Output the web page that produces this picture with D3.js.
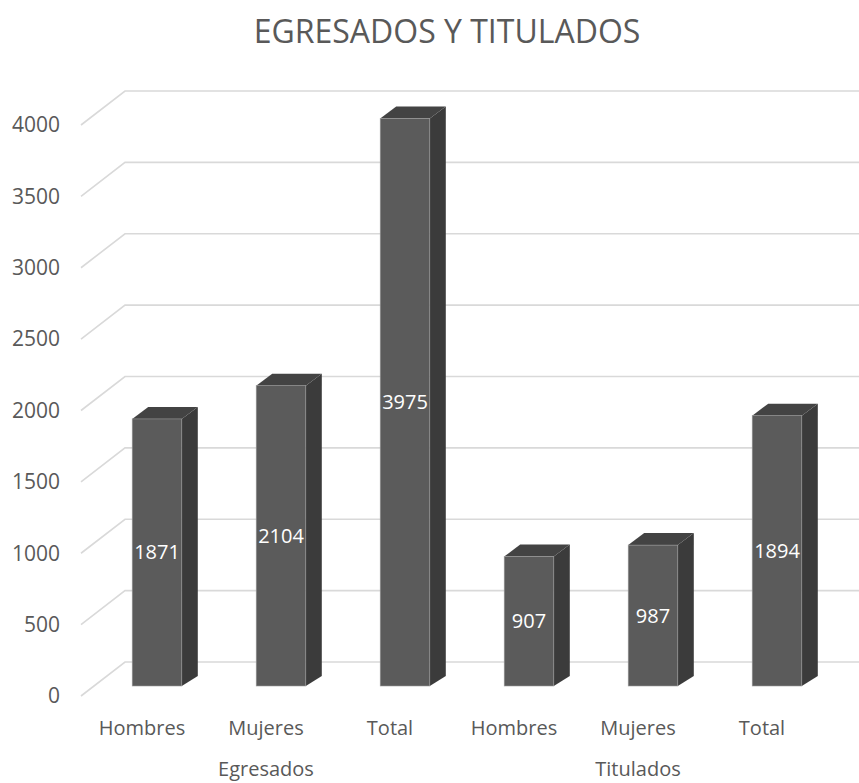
<!DOCTYPE html>
<html>
<head>
<meta charset="utf-8">
<script src="https://cdn.jsdelivr.net/npm/d3@7"></script>
<style>
	body { margin: 0; background: #fff; }
	#container { width: 859px; height: 783px; }
	text { font-family: 'Open Sans', sans-serif; }
</style>
</head>
<body>
<div id="container"></div>
<script>
var groups = ['Egresados', 'Titulados'];
var categories = ['Hombres', 'Mujeres', 'Total'];
var egresados = [1871, 2104, 3975];
var titulados = [907, 987, 1894];
var yTicks = [0, 500, 1000, 1500, 2000, 2500, 3000, 3500, 4000];

var width = 859,
	height = 783;

var svg = d3.select('#container').append('svg')
	.attr('width', width)
	.attr('height', height);

// flatten into one row per bar
var rows = [];
groups.forEach(function(grp, gi) {
	var vals = gi === 0 ? egresados : titulados;
	categories.forEach(function(cat, ci) {
		rows.push({ key: grp + '-' + cat, group: grp, cat: cat, value: vals[ci] });
	});
});

var x = d3.scaleBand()
	.domain(rows.map(function(d) { return d.key; }))
	.range([95, 839])
	.paddingInner(0.6)
	.paddingOuter(0.3);

var y = d3.scaleLinear()
	.domain([0, 4000])
	.range([686, 115]);

var depthX = 16, depthY = -12;   // bar depth
var backOff = -24, frontOff = 10; // floor depth of the grid
var wallX0 = 81, wallX1 = 125;

draw();

function draw() {

	svg.append('text')
		.attr('x', 447)
		.attr('y', 43)
		.attr('text-anchor', 'middle')
		.style('font-size', '32px')
		.style('fill', '#595959')
		.text('EGRESADOS Y TITULADOS');

	// gridlines (slanted side wall + back wall)
	var grid = svg.append('g');
	yTicks.forEach(function(t) {
		var yy = y(t);
		grid.append('path')
			.attr('d', 'M' + wallX0 + ',' + (yy + frontOff) +
				'L' + wallX1 + ',' + (yy + backOff) +
				'L' + width + ',' + (yy + backOff))
			.attr('fill', 'none')
			.attr('stroke', '#d9d9d9')
			.attr('stroke-width', 1.6);

		grid.append('text')
			.attr('x', 60)
			.attr('y', yy + frontOff)
			.attr('dy', '0.35em')
			.attr('text-anchor', 'end')
			.style('font-size', '21px')
			.style('fill', '#595959')
			.text(t);
	});

	var bars = svg.append('g').selectAll('g')
		.data(rows)
		.enter().append('g');

	// side face
	bars.append('path')
		.attr('d', function(d) {
			var x1 = x(d.key) + x.bandwidth();
			return 'M' + x1 + ',' + y(d.value) +
				'L' + (x1 + depthX) + ',' + (y(d.value) + depthY) +
				'L' + (x1 + depthX) + ',' + (y(0) + depthY + 2) +
				'L' + x1 + ',' + y(0) + 'Z';
		})
		.attr('fill', '#3b3b3b');

	// top face
	bars.append('path')
		.attr('d', function(d) {
			var x0 = x(d.key), x1 = x0 + x.bandwidth();
			return 'M' + x0 + ',' + y(d.value) +
				'L' + (x0 + depthX) + ',' + (y(d.value) + depthY) +
				'L' + (x1 + depthX) + ',' + (y(d.value) + depthY) +
				'L' + x1 + ',' + y(d.value) + 'Z';
		})
		.attr('fill', '#434343');

	// front face
	bars.append('rect')
		.attr('x', function(d) { return x(d.key); })
		.attr('y', function(d) { return y(d.value); })
		.attr('width', x.bandwidth())
		.attr('height', function(d) { return y(0) - y(d.value); })
		.attr('fill', '#5b5b5b')
		.attr('stroke', '#9a9a9a')
		.attr('stroke-width', 0.6);

	bars.append('text')
		.attr('x', function(d) { return x(d.key) + x.bandwidth() / 2; })
		.attr('y', function(d) { return (y(0) + y(d.value)) / 2; })
		.attr('dy', '0.35em')
		.attr('text-anchor', 'middle')
		.style('font-size', '20px')
		.style('fill', '#ffffff')
		.text(function(d) { return d.value; });

	// category labels, sitting on the front of the floor
	svg.append('g').selectAll('text')
		.data(rows)
		.enter().append('text')
		.attr('x', function(d) { return x(d.key) + x.bandwidth() / 2 - 15; })
		.attr('y', 735)
		.attr('text-anchor', 'middle')
		.style('font-size', '20px')
		.style('fill', '#595959')
		.text(function(d) { return d.cat; });

	svg.append('g').selectAll('text')
		.data(groups)
		.enter().append('text')
		.attr('x', function(grp) {
			var keys = categories.map(function(c) { return grp + '-' + c; });
			return d3.mean(keys, function(k) { return x(k) + x.bandwidth() / 2; }) - 15;
		})
		.attr('y', 776)
		.attr('text-anchor', 'middle')
		.style('font-size', '20px')
		.style('fill', '#595959')
		.text(function(grp) { return grp; });
}
</script>
</body>
</html>
